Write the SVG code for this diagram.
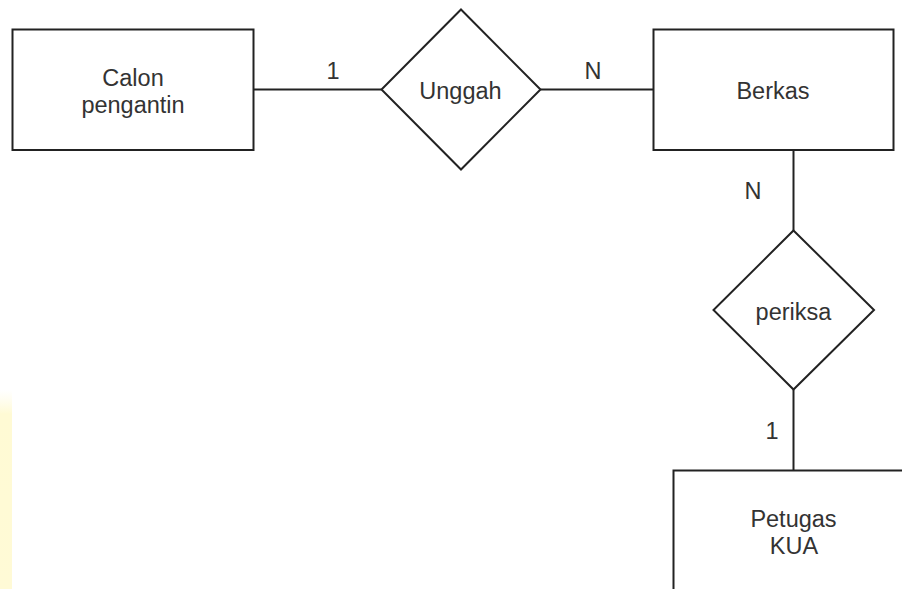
<svg xmlns="http://www.w3.org/2000/svg" width="902" height="589" viewBox="0 0 902 589">
<defs>
<linearGradient id="wm" x1="0" y1="0" x2="0" y2="1">
<stop offset="0" stop-color="#fffbe0" stop-opacity="0"/>
<stop offset="0.12" stop-color="#fffad4"/>
<stop offset="1" stop-color="#fffad6"/>
</linearGradient>
</defs>
<style>
.shape{fill:#ffffff;stroke:#222222;stroke-width:2}
.conn{fill:none;stroke:#222222;stroke-width:2}
.t{font-family:"Liberation Sans",Arial,sans-serif;font-size:23.5px;fill:#333333;text-anchor:middle}
</style>
<rect x="0" y="0" width="902" height="589" fill="#ffffff"/>
<rect x="0" y="390" width="12" height="199" fill="url(#wm)"/>
<g id="connectors">
<line class="conn" x1="253.5" y1="89.5" x2="381.5" y2="89.5"/>
<line class="conn" x1="540.5" y1="89.5" x2="653.5" y2="89.5"/>
<line class="conn" x1="793.5" y1="150" x2="793.5" y2="230.5"/>
<line class="conn" x1="793.5" y1="389.5" x2="793.5" y2="470.5"/>
<text class="t" x="333" y="79">1</text>
<text class="t" x="593" y="79">N</text>
<text class="t" x="753" y="199">N</text>
<text class="t" x="772" y="439">1</text>
</g>
<g id="calon">
<rect class="shape" x="12.5" y="29.5" width="241" height="120.5"/>
<text class="t" x="133" y="85.5">Calon</text>
<text class="t" x="133" y="113">pengantin</text>
</g>
<g id="unggah">
<polygon class="shape" points="461,9.5 540.5,89.5 461,169.5 381.5,89.5"/>
<text class="t" x="460.5" y="99">Unggah</text>
</g>
<g id="berkas">
<rect class="shape" x="653.5" y="29.5" width="240" height="120.5"/>
<text class="t" x="773" y="99">Berkas</text>
</g>
<g id="periksa">
<polygon class="shape" points="793.5,230.5 874,310 793.5,389.5 713.5,310"/>
<text class="t" x="793.5" y="320">periksa</text>
</g>
<g id="petugas">
<rect class="shape" x="673.5" y="470.5" width="240" height="125"/>
<text class="t" x="793.5" y="526.5">Petugas</text>
<text class="t" x="794" y="553.5">KUA</text>
</g>
</svg>
